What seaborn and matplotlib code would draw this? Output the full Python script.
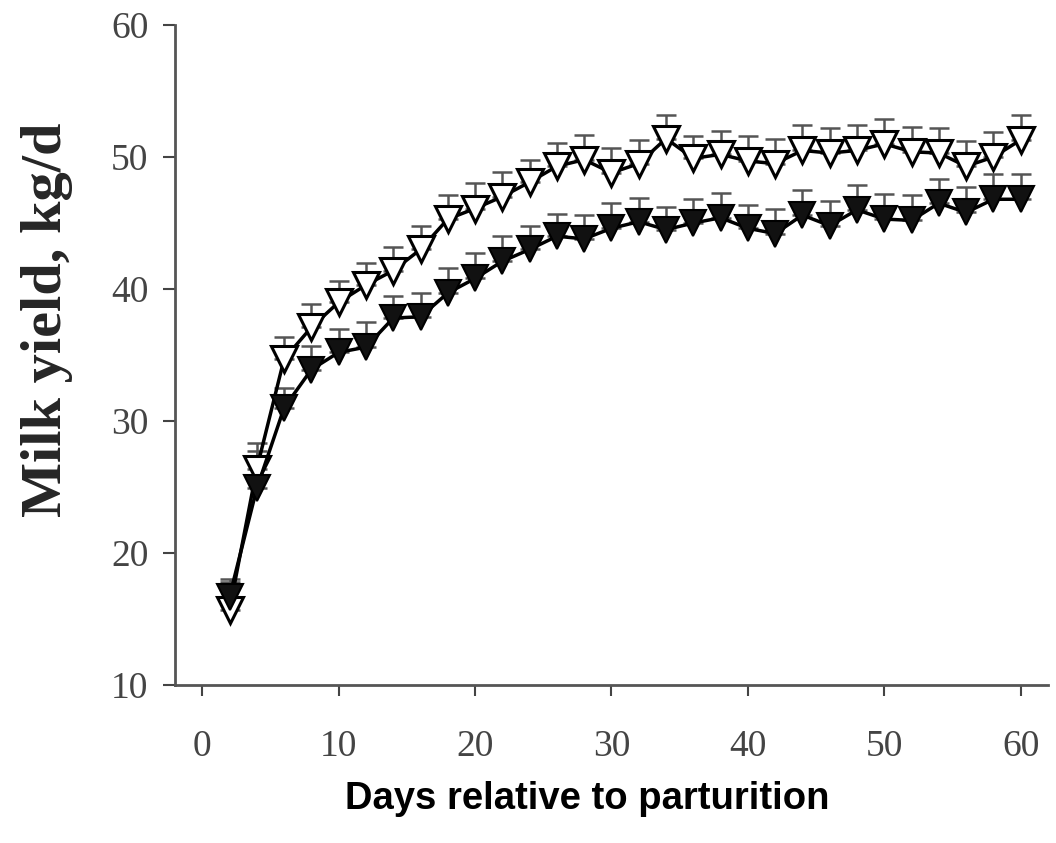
import seaborn as sns
import matplotlib.pyplot as plt
import numpy as np
import pandas as pd

# 风格
sns.set_style('ticks')
plt.rcParams['font.family'] = ['Liberation Serif', 'DejaVu Serif']

# 数据
days = [2, 4, 6, 8, 10, 12, 14, 16, 18, 20, 22, 24, 26, 28, 30,
        32, 34, 36, 38, 40, 42, 44, 46, 48, 50, 52, 54, 56, 58, 60]
open_yield = [15.7, 26.4, 34.7, 37.1, 39.0, 40.3, 41.4, 43.0, 45.3, 46.1,
              47.0, 48.1, 49.3, 49.8, 48.8, 49.5, 51.4, 49.9, 50.2, 49.7,
              49.5, 50.5, 50.3, 50.5, 51.0, 50.4, 50.3, 49.3, 50.0, 51.3]
open_se = [2.3, 1.9, 1.7, 1.8, 1.6, 1.7, 1.8, 1.8, 1.8, 1.9,
           1.9, 1.7, 1.8, 1.9, 1.9, 1.8, 1.8, 1.7, 1.8, 1.9,
           1.9, 1.9, 1.9, 1.9, 1.9, 1.9, 1.9, 1.9, 1.9, 1.85]
filled_yield = [16.7, 24.9, 31.0, 33.9, 35.2, 35.6, 37.8, 37.9, 39.7, 40.8,
                42.1, 43.0, 44.0, 43.8, 44.6, 45.1, 44.5, 45.0, 45.4, 44.6,
                44.2, 45.6, 44.8, 46.0, 45.3, 45.2, 46.5, 45.8, 46.8, 46.8]
filled_se = [1.1, 2.8, 1.5, 1.8, 1.8, 1.9, 1.7, 1.8, 1.9, 1.9,
             1.9, 1.8, 1.7, 1.8, 1.9, 1.8, 1.7, 1.8, 1.9, 1.8,
             1.9, 1.9, 1.9, 1.9, 1.9, 1.9, 1.85, 1.95, 1.9, 1.9]

df = pd.DataFrame({'day': days, 'open': open_yield, 'filled': filled_yield})

fig = plt.figure(figsize=(10.56, 8.43), dpi=100)
ax = fig.add_axes([0.1657, 0.1874, 0.8267, 0.7829])

err_color = '#555555'
# 误差线（只画上半部分）
ax.errorbar(days, open_yield, yerr=[np.zeros(len(days)), open_se], fmt='none',
            ecolor=err_color, elinewidth=1.8, capsize=7, capthick=1.8, zorder=1)
ax.errorbar(days, filled_yield, yerr=[np.zeros(len(days)), filled_se], fmt='none',
            ecolor=err_color, elinewidth=1.8, capsize=7, capthick=1.8, zorder=1)

sns.lineplot(data=df, x='day', y='open', ax=ax, color='black', linewidth=2.5,
             marker='v', markersize=19, markerfacecolor='white',
             markeredgecolor='black', markeredgewidth=2.2, zorder=3)
sns.lineplot(data=df, x='day', y='filled', ax=ax, color='black', linewidth=2.5,
             marker='v', markersize=19, markerfacecolor='#111111',
             markeredgecolor='black', markeredgewidth=1.5, zorder=4)

ax.set_xlim(-2, 62)
ax.set_ylim(10, 60)
ax.set_xticks(range(0, 61, 10))
ax.set_yticks(range(10, 61, 10))

ax.set_ylabel('Milk yield, kg/d', fontsize=42, fontweight='bold',
              family='Liberation Serif', va='center')
ax.yaxis.set_label_coords(-0.147, 0.553)
ax.set_xlabel('Days relative to parturition', fontsize=27.5, fontweight='bold',
              family='Liberation Sans', color='black', va='top')
ax.xaxis.set_label_coords(0.472, -0.146)

ax.tick_params(axis='x', which='major', labelsize=27, length=8, width=1.5,
               pad=24, colors='#444444')
ax.tick_params(axis='y', which='major', labelsize=27, length=9, width=1.5,
               pad=10, colors='#444444')

# 坐标轴框线
sns.despine(ax=ax)
for s in ['left', 'bottom']:
    ax.spines[s].set_color('#555555')
    ax.spines[s].set_linewidth(2)

plt.savefig('out.png', dpi=100)
